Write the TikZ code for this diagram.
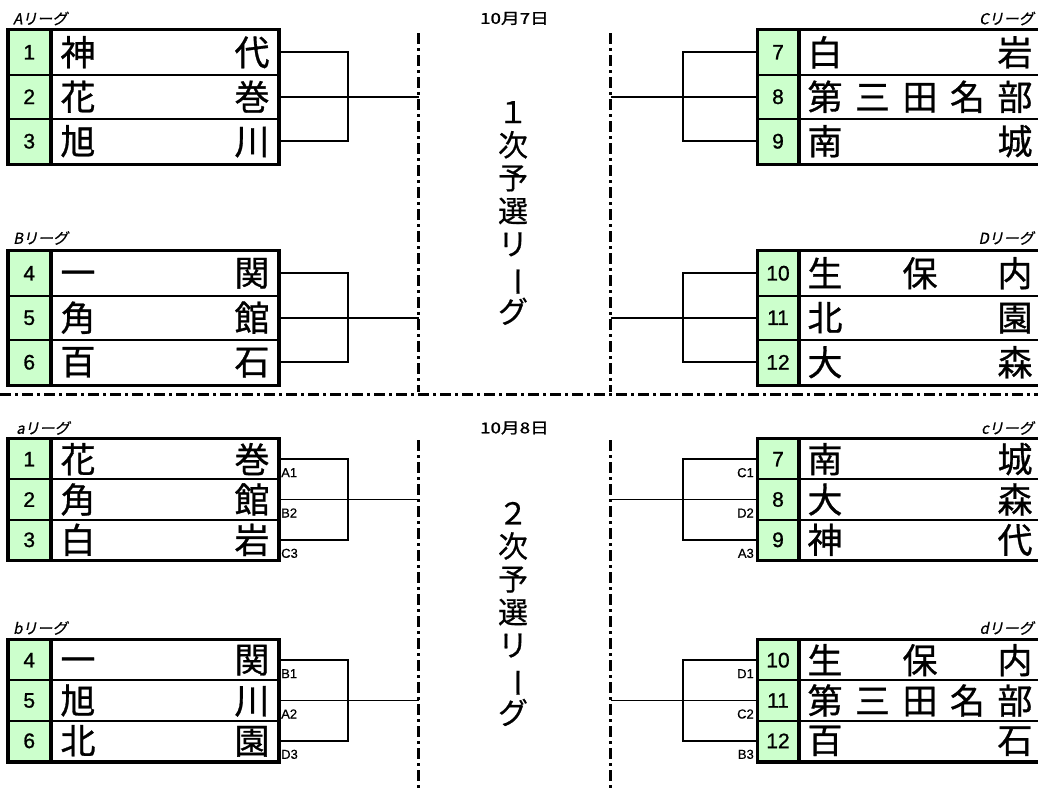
\documentclass[tikz,border=0pt]{standalone}
\usepackage{fontspec}
\usepackage{graphicx}
\newfontfamily\jp{Noto Sans CJK JP}[FakeBold=0.8]
\newfontfamily\jpt{Noto Sans CJK JP}[FakeBold=0.6]
\newfontfamily\jpd{Noto Sans CJK JP}[FakeBold=1.2]
\newfontfamily\jpi{Noto Sans CJK JP}[FakeSlant=0.2, FakeBold=0.8]
\newfontfamily\arialf{Liberation Sans}[FakeBold=1.0]
\newfontfamily\arials{Liberation Sans}[FakeBold=0.6]
\definecolor{numfill}{RGB}{204,255,204}
\tikzset{
  numcell/.style={draw, line width=2pt, fill=numfill, inner sep=0pt, anchor=north west,
    font=\arialf\fontsize{21}{21}\selectfont},
  namecell/.style={draw, line width=2pt, inner sep=0pt, anchor=north west,
    font=\jp\fontsize{35}{35}\selectfont},
  outerbox/.style={line width=3pt},
  bracket/.style={line width=1.8pt},
  sepline/.style={line width=3pt, dash pattern=on 11pt off 4pt on 3pt off 4pt},
  leaguelbl/.style={inner sep=0pt, font=\jpi\fontsize{15}{15}\selectfont},
  datelbl/.style={inner sep=0pt, font=\jpd\fontsize{15}{15}\selectfont},
  seedlbl/.style={inner sep=0pt, font=\arials\fontsize{13}{13}\selectfont},
  vtitle/.style={align=center, inner sep=0pt, font=\jpt\fontsize{30}{33}\selectfont},
}
% #1 id, #2 x, #3 y, #4 row h, #5 num w, #6 name w, #7 text w, #8 list
\newcommand\leagueblock[8]{%
  \foreach \rid/\rnum/\rname [count=\k from 0] in {#8} {
    \node[numcell, minimum width=#5, minimum height=#4] (#1n\rid) at (#2, {#3+\k*#4}) {\rnum};
    \node[namecell, minimum width=#6, minimum height=#4] (#1\rid) at (#1n\rid.north east) {\makebox[#7][s]{\rname}};
  }
  \draw[outerbox] (#1n1.north west) rectangle (#13.south east);
}
\begin{document}
\begin{tikzpicture}[x=1pt, y=-1pt]
\useasboundingbox (0,0) rectangle (1038,803);

% separators
\coordinate (vLt) at (418.5,33);  \coordinate (vLb) at (418.5,392);
\coordinate (vRt) at (610.5,33);  \coordinate (vRb) at (610.5,392);
\coordinate (wLt) at (418.5,440); \coordinate (wLb) at (418.5,790);
\coordinate (wRt) at (610.5,440); \coordinate (wRb) at (610.5,790);
\coordinate (hL) at (0,394); \coordinate (hR) at (1038,394);
\draw[sepline] (vLt) -- (vLb);
\draw[sepline] (vRt) -- (vRb);
\draw[sepline] (wLt) -- (wLb);
\draw[sepline] (wRt) -- (wRb);
\draw[sepline] (hL) -- (hR);
\coordinate (brL) at (348,0);
\coordinate (brR) at (683,0);

% blocks, first round
\leagueblock{A}{7.5}{29}{44.5}{41.5pt}{226pt}{209pt}{1/1/神\hfill 代, 2/2/花\hfill 巻, 3/3/旭\hfill 川}
\leagueblock{B}{7.5}{250}{44.5}{41.5pt}{226pt}{209pt}{1/4/一\hfill 関, 2/5/角\hfill 館, 3/6/百\hfill 石}
\leagueblock{C}{757}{29}{44.5}{40pt}{240pt}{225pt}{1/7/白\hfill 岩, 2/8/第\hfill 三\hfill 田\hfill 名\hfill 部, 3/9/南\hfill 城}
\leagueblock{D}{757}{250}{44.5}{40pt}{240pt}{225pt}{1/10/生\hfill 保\hfill 内, 2/11/北\hfill 園, 3/12/大\hfill 森}

% blocks, second round
\leagueblock{a}{7.5}{438}{40.33}{41.5pt}{226pt}{209pt}{1/1/花\hfill 巻, 2/2/角\hfill 館, 3/3/白\hfill 岩}
\leagueblock{b}{7.5}{639}{40.33}{41.5pt}{226pt}{209pt}{1/4/一\hfill 関, 2/5/旭\hfill 川, 3/6/北\hfill 園}
\leagueblock{c}{757}{438}{40.33}{40pt}{240pt}{225pt}{1/7/南\hfill 城, 2/8/大\hfill 森, 3/9/神\hfill 代}
\leagueblock{d}{757}{639}{40.33}{40pt}{240pt}{225pt}{1/10/生\hfill 保\hfill 内, 2/11/第\hfill 三\hfill 田\hfill 名\hfill 部, 3/12/百\hfill 石}

% brackets left
\foreach \blk/\top in {A/vLt, B/vLt, a/wLt, b/wLt} {
  \draw[bracket] (\blk1.east) -- (\blk1.east -| brL) |- (\blk3.east);
  \draw[bracket] (\blk2.east) -- (\blk2.east -| \top);
}
% brackets right
\foreach \blk/\top in {C/vRt, D/vRt, c/wRt, d/wRt} {
  \draw[bracket] (\blk n1.west) -- (\blk n1.west -| brR) |- (\blk n3.west);
  \draw[bracket] (\blk n2.west) -- (\blk n2.west -| \top);
}

% seed labels
\foreach \blk/\sa/\sb/\sc in {a/A1/B2/C3, b/B1/A2/D3} {
  \node[seedlbl, anchor=base west] (s\blk1) at ([xshift=2pt, yshift=-18pt]\blk1.east) {\sa};
  \node[seedlbl, anchor=base west] (s\blk2) at ([xshift=2pt, yshift=-18pt]\blk2.east) {\sb};
  \node[seedlbl, anchor=base west] (s\blk3) at ([xshift=2pt, yshift=-18pt]\blk3.east) {\sc};
}
\foreach \blk/\sa/\sb/\sc in {c/C1/D2/A3, d/D1/C2/B3} {
  \node[seedlbl, anchor=base east] (s\blk1) at ([xshift=-3pt, yshift=-18pt]\blk n1.west) {\sa};
  \node[seedlbl, anchor=base east] (s\blk2) at ([xshift=-3pt, yshift=-18pt]\blk n2.west) {\sb};
  \node[seedlbl, anchor=base east] (s\blk3) at ([xshift=-3pt, yshift=-18pt]\blk n3.west) {\sc};
}

% league labels
\node[leaguelbl, anchor=west] (lA) at (13,18.5) {Aリーグ};
\node[leaguelbl, anchor=west] (lB) at (13,238) {Bリーグ};
\node[leaguelbl, anchor=east] (lC) at (1034,18.5) {Cリーグ};
\node[leaguelbl, anchor=east] (lD) at (1034,238) {Dリーグ};
\node[leaguelbl, anchor=west] (la) at (16,428) {aリーグ};
\node[leaguelbl, anchor=west] (lb) at (13,628) {bリーグ};
\node[leaguelbl, anchor=east] (lc) at (1034,428) {cリーグ};
\node[leaguelbl, anchor=east] (ld) at (1034,628) {dリーグ};

% dates
\node[datelbl] (d1) at (514.5,18.5) {\scalebox{1.25}[1]{10月7日}};
\node[datelbl] (d2) at (514.5,428) {\scalebox{1.25}[1]{10月8日}};

% vertical titles
\node[vtitle] (t1) at (513,213) {１\\次\\予\\選\\リ\\\rotatebox[origin=c]{-90}{ー}\\グ};
\node[vtitle] (t2) at (513,614) {２\\次\\予\\選\\リ\\\rotatebox[origin=c]{-90}{ー}\\グ};
\end{tikzpicture}
\end{document}
